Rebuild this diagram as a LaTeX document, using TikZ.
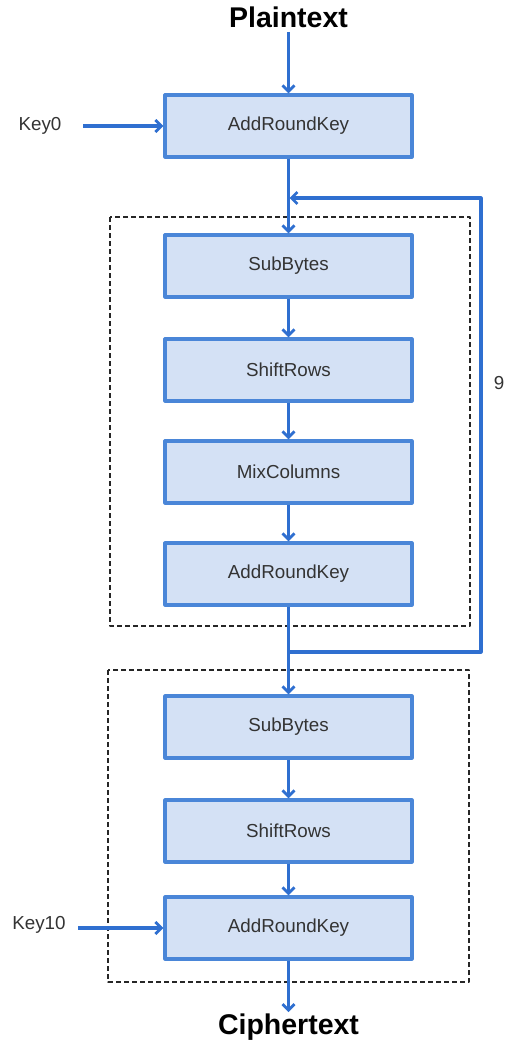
\documentclass[tikz,border=0pt]{standalone}
\usepackage{fontspec}
\setmainfont{Liberation Sans}
\usetikzlibrary{arrows.meta,positioning}
\definecolor{boxline}{HTML}{4A86D8}
\definecolor{boxfill}{HTML}{D4E1F5}
\definecolor{flow}{HTML}{2F6FD0}
\definecolor{txt}{HTML}{333333}
\tikzset{
	stage/.style={draw=boxline,fill=boxfill,line width=3.2pt,minimum width=247pt,minimum height=62pt,inner sep=0pt,text=txt,font=\fontsize{18.8}{20}\selectfont},
	title/.style={font=\bfseries\fontsize{28.5}{30}\selectfont,text=black,inner sep=0pt},
	keylbl/.style={font=\fontsize{18.8}{20}\selectfont,text=txt,inner sep=0pt},
	flowline/.style={draw=flow,line width=3.2pt,-{Straight Barb[length=6pt,width=12pt,line width=2.8pt]}},
	roundbox/.style={draw=black!85,line width=1.5pt,dash pattern=on 5pt off 3pt}
}
\begin{document}
\begin{tikzpicture}[x=1pt,y=-1pt,line join=round]
	\useasboundingbox (0,0) rectangle (504,1043);
	% rounds
	\draw[roundbox] (110,217) rectangle (470,626);
	\draw[roundbox] (108,670) rectangle (469,982);
	% stages
	\node[title] (plain) at (288.5,17) {Plaintext};
	\node[stage] (ark0) at (288.5,126) {AddRoundKey};
	\node[stage] (sb1) at (288.5,266) {SubBytes};
	\node[stage] (sr1) at (288.5,370) {ShiftRows};
	\node[stage] (mc1) at (288.5,472) {MixColumns};
	\node[stage] (ark1) at (288.5,574) {AddRoundKey};
	\node[stage] (sb2) at (288.5,727) {SubBytes};
	\node[stage] (sr2) at (288.5,831) {ShiftRows};
	\node[stage] (ark2) at (288.5,928) {AddRoundKey};
	\node[title] (cipher) at (288.5,1027) {Ciphertext};
	\node[keylbl] (key0) at (40,126) {Key0};
	\node[keylbl] (key10) at (39,925) {Key10};
	\node[keylbl] (nine) at (499,383) {9};
	\coordinate (merge) at (288.5,198);
	\coordinate (split) at (288.5,652);
	\coordinate (turn) at (481,198);
	% arrows
	\draw[flowline] (288.5,32) -- (ark0.north);
	\draw[flowline] (83,126) -- (ark0.west);
	\draw[flowline] (ark0) -- (sb1);
	\draw[flowline] (sb1) -- (sr1);
	\draw[flowline] (sr1) -- (mc1);
	\draw[flowline] (mc1) -- (ark1);
	\draw[flowline] (ark1) -- (sb2);
	\draw[flowline] (split) -| (turn) -- ([xshift=1pt]merge);
	\draw[flowline] (sb2) -- (sr2);
	\draw[flowline] (sr2) -- (ark2);
	\draw[flowline] (78,928) -- (ark2.west);
	\draw[flowline] (ark2) -- (288.5,1012);
\end{tikzpicture}
\end{document}
